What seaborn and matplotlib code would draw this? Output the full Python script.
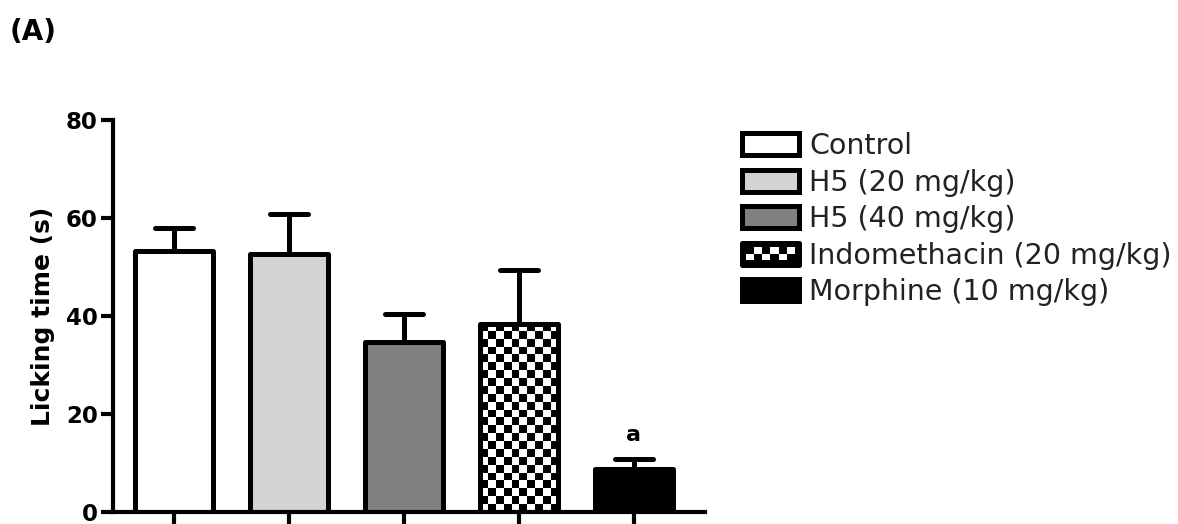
import numpy as np
import matplotlib
matplotlib.use("Agg")
import matplotlib.pyplot as plt
import seaborn as sns
from matplotlib.patches import Rectangle, Patch
from matplotlib.legend_handler import HandlerBase
from matplotlib.markers import MarkerStyle

groups = ["Control", "H5 (20 mg/kg)", "H5 (40 mg/kg)",
          "Indomethacin (20 mg/kg)", "Morphine (10 mg/kg)"]
means = [53.3, 52.7, 34.7, 38.4, 8.8]
sem = [4.7, 8.1, 5.7, 11.0, 2.0]
colors = ["white", "#d3d3d3", "#808080", "white", "black"]
letters = ["", "", "", "", "a"]
checker_idx = 3


class CheckerHandler(HandlerBase):
    # small checkered box for the legend
    def create_artists(self, legend, orig_handle, xdescent, ydescent,
                       width, height, fontsize, trans):
        x0, y0 = -xdescent, -ydescent
        arts = [Rectangle((x0, y0), width, height, facecolor="black",
                          edgecolor="none", transform=trans)]
        m = 0.2 * height
        nc, nr = 6, 2
        cw, ch = (width - 2 * m) / nc, (height - 2 * m) / nr
        for r in range(nr):
            for c in range(nc):
                if (r + c) % 2 == 0:
                    arts.append(Rectangle((x0 + m + c * cw, y0 + m + r * ch), cw, ch,
                                          facecolor="white", edgecolor="none",
                                          transform=trans))
        arts.append(Rectangle((x0, y0), width, height, facecolor="none",
                              edgecolor="black", linewidth=3.6,
                              joinstyle="round", transform=trans))
        return arts


sns.set_style("ticks")
plt.rcParams["font.family"] = ["DejaVu Sans"]
plt.rcParams.update({"axes.edgecolor": "black", "text.color": "black",
                     "axes.labelcolor": "black", "xtick.color": "black",
                     "ytick.color": "black"})

fig = plt.figure(figsize=(11.78, 5.24), dpi=100)
ax = fig.add_axes([113 / 1178, 12 / 524, (705 - 113) / 1178, (512 - 120) / 524])

sns.barplot(x=groups, y=means, hue=groups, palette=colors, legend=False,
            width=0.68, edgecolor="black", linewidth=3.6, saturation=1, ax=ax)

x = np.arange(len(groups))
eb = ax.errorbar(x, means, yerr=[np.zeros(len(x)), sem], fmt="none", ecolor="black",
                 elinewidth=3.6, capsize=14, capthick=3.6, zorder=0.8)
for cl in eb[1]:
    cl.set_marker(MarkerStyle("_", capstyle="round"))

ax.set_xlim(-0.53, 4.62)
ax.set_ylim(0, 80)

for p in ax.patches:
    p.set_joinstyle("round")

# checkered fill for indomethacin
p = ax.patches[checker_idx]
bb = p.get_bbox()
px = ax.transData.transform([[bb.x0, bb.y0], [bb.x1, bb.y1]])
cell = 7.8
nc = int(round((px[1, 0] - px[0, 0]) / cell))
nr = int(round((px[1, 1] - px[0, 1]) / cell))
board = np.add.outer(np.arange(nr), np.arange(nc)) % 2
im = ax.imshow(board, cmap="gray", extent=[bb.x0, bb.x1, bb.y0, bb.y1],
               aspect="auto", interpolation="nearest", zorder=0.9)
im.set_clip_path(p)
p.set_facecolor("none")
ax.set_xlim(-0.53, 4.62)
ax.set_ylim(0, 80)

for i, t in enumerate(letters):
    if t:
        ax.text(i, means[i] + sem[i] + 2.9, t, ha="center", va="bottom",
                fontsize=16, fontweight="bold")

sns.despine(ax=ax)
for s in ["left", "bottom"]:
    ax.spines[s].set_linewidth(3)
ax.set_yticks([0, 20, 40, 60, 80])
ax.set_xticks(x)
ax.set_xticklabels([])
ax.tick_params(width=3, length=9, labelsize=16.5, pad=2)
for lbl in ax.get_yticklabels():
    lbl.set_fontweight("bold")
ax.set_xlabel("")
ax.set_ylabel("Licking time (s)", fontsize=18, fontweight="bold", labelpad=8)

fig.text(0.008, 1 - 18 / 524, "(A)", fontsize=20, fontweight="bold", va="top")

handles = []
hmap = {}
for i, (g, c) in enumerate(zip(groups, colors)):
    h = Patch(facecolor=c, edgecolor="black", linewidth=3.6, joinstyle="round", label=g)
    if i == checker_idx:
        hmap[h] = CheckerHandler()
    handles.append(h)

fig.legend(handles=handles, labels=groups, loc="upper left",
           bbox_to_anchor=(742 / 1178, 1 - 132 / 524), frameon=False,
           fontsize=20.5, handlelength=2.0, handleheight=0.8,
           handletextpad=0.35, labelspacing=0.3, borderpad=0, borderaxespad=0,
           handler_map=hmap, labelcolor="#222222")

fig.savefig("out.png", dpi=100)
